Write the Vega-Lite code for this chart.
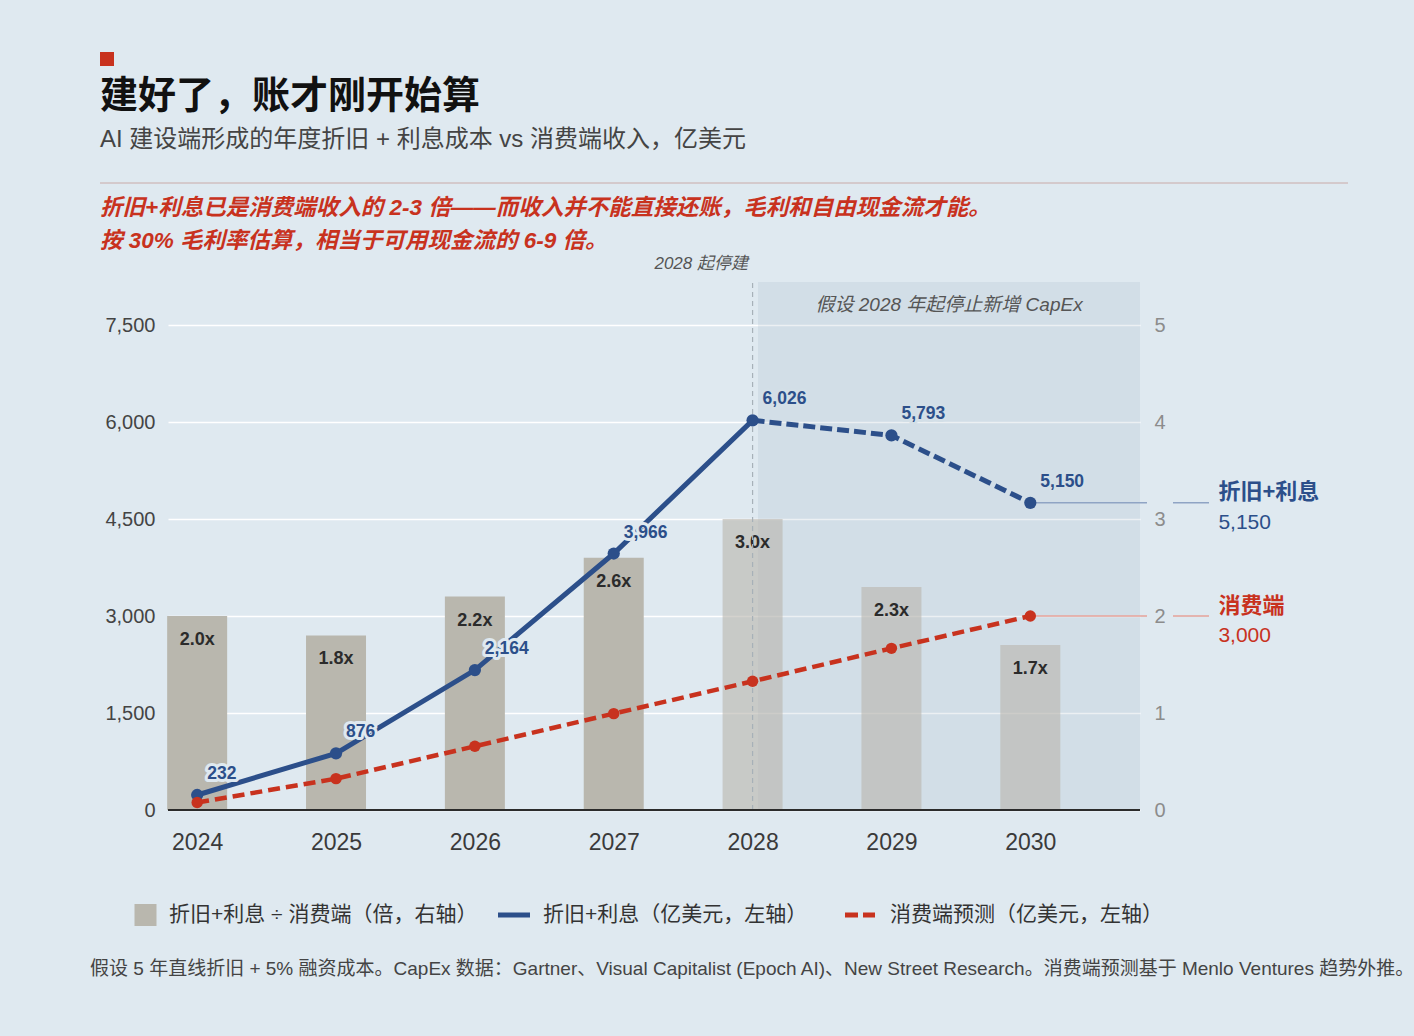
{
  "$schema": "https://vega.github.io/schema/vega-lite/v6.json",
  "width": 972,
  "height": 528,
  "autosize": {"type": "none"},
  "padding": {"left": 168, "top": 282, "right": 274, "bottom": 226},
  "background": "#dfe9f0",
  "config": {
    "view": {"stroke": null},
    "font": "Liberation Sans, Noto Sans CJK SC, sans-serif",
    "text": {"font": "Liberation Sans, Noto Sans CJK SC, sans-serif", "baseline": "middle"}
  },
  "datasets": {
    "years": [
      {"year": 2024, "cost": 232, "cost_text": "232", "consumer": 115, "ratio": 2.0, "label": "2.0x"},
      {"year": 2025, "cost": 876, "cost_text": "876", "consumer": 485, "ratio": 1.8, "label": "1.8x"},
      {"year": 2026, "cost": 2164, "cost_text": "2,164", "consumer": 985, "ratio": 2.2, "label": "2.2x"},
      {"year": 2027, "cost": 3966, "cost_text": "3,966", "consumer": 1490, "ratio": 2.6, "label": "2.6x"},
      {"year": 2028, "cost": 6026, "cost_text": "6,026", "consumer": 1990, "ratio": 3.0, "label": "3.0x"},
      {"year": 2029, "cost": 5793, "cost_text": "5,793", "consumer": 2500, "ratio": 2.3, "label": "2.3x"},
      {"year": 2030, "cost": 4750, "cost_text": "5,150", "consumer": 3000, "ratio": 1.7, "label": "1.7x"}
    ]
  },
  "data": {"values": [{}]},
  "resolve": {"scale": {"y": "independent"}},
  "layer": [
    {
      "layer": [
        {
          "mark": {"type": "rect", "color": "#9fb3c2", "opacity": 0.2},
          "encoding": {
            "x": {"datum": 2028.039, "type": "quantitative", "scale": {"domain": [2023.79, 2030.79], "padding": 0}},
            "x2": {"datum": 2030.79},
            "y": {"datum": 0, "type": "quantitative", "scale": {"domain": [0, 5.4433]}},
            "y2": {"datum": 5.4433}
          }
        },
        {
          "data": {"name": "years"},
          "mark": {"type": "bar", "width": 60, "color": "#b9b7ae"},
          "encoding": {
            "x": {
              "field": "year", "type": "quantitative", "title": null,
              "scale": {"domain": [2023.79, 2030.79], "padding": 0},
              "axis": {
                "values": [2024, 2025, 2026, 2027, 2028, 2029, 2030],
                "labelExpr": "format(datum.value, 'd')",
                "grid": false, "domain": false, "ticks": false, "labelFlush": false,
                "labelFontSize": 23, "labelColor": "#3a3a3a", "labelPadding": 21
              }
            },
            "y": {
              "field": "ratio", "type": "quantitative", "title": null,
              "scale": {"domain": [0, 5.4433]},
              "axis": {
                "orient": "right", "values": [0, 1, 2, 3, 4, 5],
                "labelExpr": "format(datum.value, 'd')",
                "grid": false, "domain": false, "ticks": false,
                "labelFontSize": 20, "labelColor": "#8c8c8c", "labelPadding": 14
              }
            },
            "opacity": {"condition": {"test": "datum.year >= 2028", "value": 0.62}, "value": 1}
          }
        },
        {
          "data": {"name": "years"},
          "mark": {"type": "text", "dy": 24, "fontSize": 18, "fontWeight": "bold", "color": "#2b2b2b"},
          "encoding": {
            "x": {"field": "year", "type": "quantitative", "title": null, "scale": {"domain": [2023.79, 2030.79], "padding": 0}},
            "y": {"field": "ratio", "type": "quantitative", "title": null, "scale": {"domain": [0, 5.4433]}},
            "text": {"field": "label"}
          }
        }
      ]
    },
    {
      "layer": [
        {
          "mark": {"type": "rule", "color": "#a7b1b8", "strokeDash": [5, 4], "strokeWidth": 1.2},
          "encoding": {
            "x": {"datum": 2028, "type": "quantitative", "scale": {"domain": [2023.79, 2030.79], "padding": 0}},
            "y": {
              "datum": 0, "type": "quantitative", "title": null,
              "scale": {"domain": [0, 8165]},
              "axis": {
                "orient": "left", "values": [0, 1500, 3000, 4500, 6000, 7500],
                "labelExpr": "format(datum.value, ',')",
                "grid": true, "gridColor": "#ffffff", "gridWidth": 1.5,
                "domain": false, "ticks": false,
                "labelFontSize": 20, "labelColor": "#444444", "labelPadding": 13
              }
            },
            "y2": {"datum": 8165}
          }
        },
        {
          "mark": {"type": "rule", "color": "#2b2b2b", "strokeWidth": 2},
          "encoding": {
            "x": {"datum": 2023.79, "type": "quantitative", "scale": {"domain": [2023.79, 2030.79], "padding": 0}},
            "x2": {"datum": 2030.79},
            "y": {"datum": 0, "type": "quantitative", "scale": {"domain": [0, 8165]}}
          }
        },
        {
          "mark": {"type": "rule", "color": "#8fa4c4", "strokeWidth": 1.5},
          "encoding": {
            "x": {"datum": 2030, "type": "quantitative", "scale": {"domain": [2023.79, 2030.79], "padding": 0}},
            "x2": {"datum": 2030.8404},
            "y": {"datum": 4750, "type": "quantitative", "scale": {"domain": [0, 8165]}}
          }
        },
        {
          "mark": {"type": "rule", "color": "#8fa4c4", "strokeWidth": 1.5},
          "encoding": {
            "x": {"datum": 2031.0276, "type": "quantitative", "scale": {"domain": [2023.79, 2030.79], "padding": 0}},
            "x2": {"datum": 2031.2869},
            "y": {"datum": 4750, "type": "quantitative", "scale": {"domain": [0, 8165]}}
          }
        },
        {
          "mark": {"type": "rule", "color": "#e6a29a", "strokeWidth": 1.5},
          "encoding": {
            "x": {"datum": 2030, "type": "quantitative", "scale": {"domain": [2023.79, 2030.79], "padding": 0}},
            "x2": {"datum": 2030.8404},
            "y": {"datum": 3000, "type": "quantitative", "scale": {"domain": [0, 8165]}}
          }
        },
        {
          "mark": {"type": "rule", "color": "#e6a29a", "strokeWidth": 1.5},
          "encoding": {
            "x": {"datum": 2031.0276, "type": "quantitative", "scale": {"domain": [2023.79, 2030.79], "padding": 0}},
            "x2": {"datum": 2031.2869},
            "y": {"datum": 3000, "type": "quantitative", "scale": {"domain": [0, 8165]}}
          }
        },
        {
          "data": {"name": "years"},
          "transform": [{"filter": "datum.year <= 2028"}],
          "mark": {"type": "line", "color": "#2c4f8a", "strokeWidth": 5},
          "encoding": {
            "x": {"field": "year", "type": "quantitative", "title": null, "scale": {"domain": [2023.79, 2030.79], "padding": 0}},
            "y": {"field": "cost", "type": "quantitative", "title": null, "scale": {"domain": [0, 8165]}}
          }
        },
        {
          "data": {"name": "years"},
          "transform": [{"filter": "datum.year >= 2028"}],
          "mark": {"type": "line", "color": "#2c4f8a", "strokeWidth": 5, "strokeDash": [12, 5]},
          "encoding": {
            "x": {"field": "year", "type": "quantitative", "title": null, "scale": {"domain": [2023.79, 2030.79], "padding": 0}},
            "y": {"field": "cost", "type": "quantitative", "title": null, "scale": {"domain": [0, 8165]}}
          }
        },
        {
          "data": {"name": "years"},
          "mark": {"type": "line", "color": "#c8321e", "strokeWidth": 4.5, "strokeDash": [12, 6]},
          "encoding": {
            "x": {"field": "year", "type": "quantitative", "title": null, "scale": {"domain": [2023.79, 2030.79], "padding": 0}},
            "y": {"field": "consumer", "type": "quantitative", "title": null, "scale": {"domain": [0, 8165]}}
          }
        },
        {
          "data": {"name": "years"},
          "mark": {"type": "circle", "color": "#2c4f8a", "size": 150, "opacity": 1},
          "encoding": {
            "x": {"field": "year", "type": "quantitative", "title": null, "scale": {"domain": [2023.79, 2030.79], "padding": 0}},
            "y": {"field": "cost", "type": "quantitative", "title": null, "scale": {"domain": [0, 8165]}}
          }
        },
        {
          "data": {"name": "years"},
          "mark": {"type": "circle", "color": "#c8321e", "size": 130, "opacity": 1},
          "encoding": {
            "x": {"field": "year", "type": "quantitative", "title": null, "scale": {"domain": [2023.79, 2030.79], "padding": 0}},
            "y": {"field": "consumer", "type": "quantitative", "title": null, "scale": {"domain": [0, 8165]}}
          }
        },
        {
          "data": {"name": "years"},
          "mark": {"type": "text", "align": "left", "dx": 10, "dy": -21, "fontSize": 17.5, "fontWeight": "bold", "strokeWidth": 6, "strokeJoin": "round"},
          "encoding": {
            "x": {"field": "year", "type": "quantitative", "title": null, "scale": {"domain": [2023.79, 2030.79], "padding": 0}},
            "y": {"field": "cost", "type": "quantitative", "title": null, "scale": {"domain": [0, 8165]}},
            "text": {"field": "cost_text"},
            "color": {"condition": {"test": "datum.year >= 2028", "value": "#d3dfe7"}, "value": "#dfe9f0"},
            "stroke": {"condition": {"test": "datum.year >= 2028", "value": "#d3dfe7"}, "value": "#dfe9f0"}
          }
        },
        {
          "data": {"name": "years"},
          "mark": {"type": "text", "align": "left", "dx": 10, "dy": -21, "fontSize": 17.5, "fontWeight": "bold", "color": "#2c4f8a"},
          "encoding": {
            "x": {"field": "year", "type": "quantitative", "title": null, "scale": {"domain": [2023.79, 2030.79], "padding": 0}},
            "y": {"field": "cost", "type": "quantitative", "title": null, "scale": {"domain": [0, 8165]}},
            "text": {"field": "cost_text"}
          }
        },
        {
          "mark": {"type": "text", "text": "折旧+利息", "align": "left", "fontSize": 22, "fontWeight": "bold", "color": "#2c4f8a"},
          "encoding": {
            "x": {"datum": 2031.3545, "type": "quantitative", "scale": {"domain": [2023.79, 2030.79], "padding": 0}},
            "y": {"datum": 4917.6, "type": "quantitative", "scale": {"domain": [0, 8165]}}
          }
        },
        {
          "mark": {"type": "text", "text": "5,150", "align": "left", "fontSize": 21, "color": "#2c4f8a"},
          "encoding": {
            "x": {"datum": 2031.3545, "type": "quantitative", "scale": {"domain": [2023.79, 2030.79], "padding": 0}},
            "y": {"datum": 4438.2, "type": "quantitative", "scale": {"domain": [0, 8165]}}
          }
        },
        {
          "mark": {"type": "text", "text": "消费端", "align": "left", "fontSize": 22, "fontWeight": "bold", "color": "#c8321e"},
          "encoding": {
            "x": {"datum": 2031.3545, "type": "quantitative", "scale": {"domain": [2023.79, 2030.79], "padding": 0}},
            "y": {"datum": 3154.7, "type": "quantitative", "scale": {"domain": [0, 8165]}}
          }
        },
        {
          "mark": {"type": "text", "text": "3,000", "align": "left", "fontSize": 21, "color": "#c8321e"},
          "encoding": {
            "x": {"datum": 2031.3545, "type": "quantitative", "scale": {"domain": [2023.79, 2030.79], "padding": 0}},
            "y": {"datum": 2690.7, "type": "quantitative", "scale": {"domain": [0, 8165]}}
          }
        },
        {
          "mark": {"type": "text", "text": "假设 2028 年起停止新增 CapEx", "align": "center", "fontSize": 19, "fontStyle": "italic", "color": "#555555"},
          "encoding": {
            "x": {"datum": 2029.415, "type": "quantitative", "scale": {"domain": [2023.79, 2030.79], "padding": 0}},
            "y": {"datum": 7809.3, "type": "quantitative", "scale": {"domain": [0, 8165]}}
          }
        },
        {
          "mark": {"type": "text", "text": "2028 起停建", "align": "right", "fontSize": 17, "fontStyle": "italic", "color": "#555555"},
          "encoding": {
            "x": {"datum": 2027.967, "type": "quantitative", "scale": {"domain": [2023.79, 2030.79], "padding": 0}},
            "y": {"datum": 8443.3, "type": "quantitative", "scale": {"domain": [0, 8165]}}
          }
        },
        {
          "mark": {"type": "square", "size": 196, "color": "#c8321e", "filled": true, "opacity": 1},
          "encoding": {
            "x": {"datum": 2023.3507, "type": "quantitative", "scale": {"domain": [2023.79, 2030.79], "padding": 0}},
            "y": {"datum": 11613.5, "type": "quantitative", "scale": {"domain": [0, 8165]}}
          }
        },
        {
          "mark": {"type": "text", "text": "建好了，账才刚开始算", "align": "left", "fontSize": 38, "fontWeight": "bold", "color": "#111111", "font": "Noto Sans CJK SC"},
          "encoding": {
            "x": {"datum": 2023.3003, "type": "quantitative", "scale": {"domain": [2023.79, 2030.79], "padding": 0}},
            "y": {"datum": 11025.8, "type": "quantitative", "scale": {"domain": [0, 8165]}}
          }
        },
        {
          "mark": {"type": "text", "text": "AI 建设端形成的年度折旧 + 利息成本 vs 消费端收入，亿美元", "align": "left", "fontSize": 24, "color": "#444444"},
          "encoding": {
            "x": {"datum": 2023.3003, "type": "quantitative", "scale": {"domain": [2023.79, 2030.79], "padding": 0}},
            "y": {"datum": 10360.9, "type": "quantitative", "scale": {"domain": [0, 8165]}}
          }
        },
        {
          "mark": {"type": "rule", "color": "#c9aaa8", "strokeWidth": 1},
          "encoding": {
            "x": {"datum": 2023.3003, "type": "quantitative", "scale": {"domain": [2023.79, 2030.79], "padding": 0}},
            "x2": {"datum": 2032.288},
            "y": {"datum": 9695.9, "type": "quantitative", "scale": {"domain": [0, 8165]}}
          }
        },
        {
          "mark": {"type": "text", "text": "折旧+利息已是消费端收入的 2-3 倍——而收入并不能直接还账，毛利和自由现金流才能。", "align": "left", "fontSize": 22.5, "fontWeight": "bold", "fontStyle": "italic", "color": "#c8321e"},
          "encoding": {
            "x": {"datum": 2023.3003, "type": "quantitative", "scale": {"domain": [2023.79, 2030.79], "padding": 0}},
            "y": {"datum": 9309.3, "type": "quantitative", "scale": {"domain": [0, 8165]}}
          }
        },
        {
          "mark": {"type": "text", "text": "按 30% 毛利率估算，相当于可用现金流的 6-9 倍。", "align": "left", "fontSize": 22.5, "fontWeight": "bold", "fontStyle": "italic", "color": "#c8321e"},
          "encoding": {
            "x": {"datum": 2023.3003, "type": "quantitative", "scale": {"domain": [2023.79, 2030.79], "padding": 0}},
            "y": {"datum": 8799.0, "type": "quantitative", "scale": {"domain": [0, 8165]}}
          }
        },
        {
          "mark": {"type": "square", "size": 484, "color": "#b9b7ae", "filled": true, "opacity": 1},
          "encoding": {
            "x": {"datum": 2023.628, "type": "quantitative", "scale": {"domain": [2023.79, 2030.79], "padding": 0}},
            "y": {"datum": -1623.7, "type": "quantitative", "scale": {"domain": [0, 8165]}}
          }
        },
        {
          "mark": {"type": "text", "text": "折旧+利息 ÷ 消费端（倍，右轴）", "align": "left", "fontSize": 21, "color": "#333333"},
          "encoding": {
            "x": {"datum": 2023.7972, "type": "quantitative", "scale": {"domain": [2023.79, 2030.79], "padding": 0}},
            "y": {"datum": -1623.7, "type": "quantitative", "scale": {"domain": [0, 8165]}}
          }
        },
        {
          "mark": {"type": "rule", "color": "#2c4f8a", "strokeWidth": 5},
          "encoding": {
            "x": {"datum": 2026.1666, "type": "quantitative", "scale": {"domain": [2023.79, 2030.79], "padding": 0}},
            "x2": {"datum": 2026.397},
            "y": {"datum": -1623.7, "type": "quantitative", "scale": {"domain": [0, 8165]}}
          }
        },
        {
          "mark": {"type": "text", "text": "折旧+利息（亿美元，左轴）", "align": "left", "fontSize": 21, "color": "#333333"},
          "encoding": {
            "x": {"datum": 2026.4906, "type": "quantitative", "scale": {"domain": [2023.79, 2030.79], "padding": 0}},
            "y": {"datum": -1623.7, "type": "quantitative", "scale": {"domain": [0, 8165]}}
          }
        },
        {
          "mark": {"type": "rule", "color": "#c8321e", "strokeWidth": 5, "strokeDash": [13, 5]},
          "encoding": {
            "x": {"datum": 2028.6655, "type": "quantitative", "scale": {"domain": [2023.79, 2030.79], "padding": 0}},
            "x2": {"datum": 2028.8816},
            "y": {"datum": -1623.7, "type": "quantitative", "scale": {"domain": [0, 8165]}}
          }
        },
        {
          "mark": {"type": "text", "text": "消费端预测（亿美元，左轴）", "align": "left", "fontSize": 21, "color": "#333333"},
          "encoding": {
            "x": {"datum": 2028.9896, "type": "quantitative", "scale": {"domain": [2023.79, 2030.79], "padding": 0}},
            "y": {"datum": -1623.7, "type": "quantitative", "scale": {"domain": [0, 8165]}}
          }
        },
        {
          "mark": {"type": "text", "text": "假设 5 年直线折旧 + 5% 融资成本。CapEx 数据：Gartner、Visual Capitalist (Epoch AI)、New Street Research。消费端预测基于 Menlo Ventures 趋势外推。", "align": "left", "fontSize": 19, "color": "#444444"},
          "encoding": {
            "x": {"datum": 2023.2283, "type": "quantitative", "scale": {"domain": [2023.79, 2030.79], "padding": 0}},
            "y": {"datum": -2458.8, "type": "quantitative", "scale": {"domain": [0, 8165]}}
          }
        }
      ]
    }
  ]
}
